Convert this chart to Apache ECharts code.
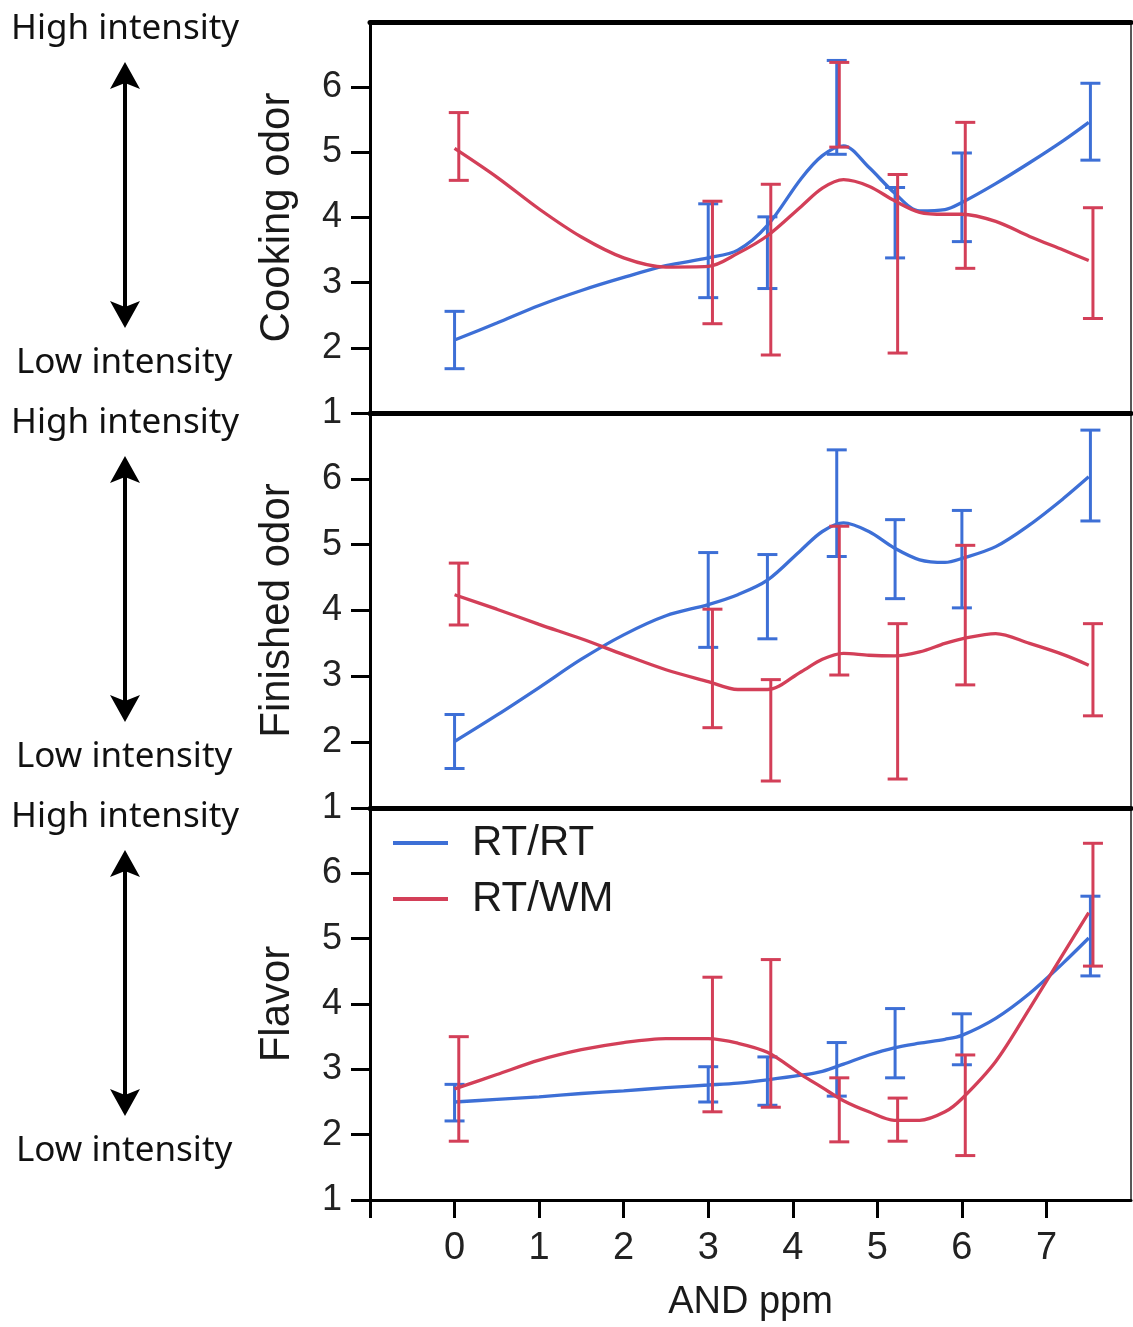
<!DOCTYPE html>
<html>
<head>
<meta charset="utf-8">
<script src="https://cdn.jsdelivr.net/npm/echarts@6/dist/echarts.min.js"></script>
<style>
html,body{margin:0;padding:0;background:#fff;}
#chart{width:1133px;height:1327px;}
</style>
</head>
<body>
<div id="chart"></div>
<script>
// ---------------- data ----------------
const panelNames = ['Cooking odor', 'Finished odor', 'Flavor'];
const seriesNames = ['RT/RT', 'RT/WM'];
const xTickValues = [-1, 0, 1, 2, 3, 4, 5, 6, 7];
const xLabelValues = [0, 1, 2, 3, 4, 5, 6, 7];
const yTickValues = [1, 2, 3, 4, 5, 6];

// AND doses (ppm) where each group was measured
const doseRT = [0, 3, 3.7, 4.52, 5.21, 6, 7.52];
const doseWM = [0.05, 3.05, 3.74, 4.55, 5.24, 6.04, 7.55];

// Cooking odor
const cookRTmean = [2.12, 3.49, 3.46, 5.69, 3.92, 4.31, 5.47];
const cookRTerr  = [0.44, 0.72, 0.55, 0.72, 0.54, 0.68, 0.59];
const cookWMmean = [5.09, 3.31, 3.20, 5.73, 3.29, 4.34, 3.30];
const cookWMerr  = [0.52, 0.94, 1.31, 0.65, 1.37, 1.12, 0.85];
// Finished odor
const finRTmean = [2.01, 4.16, 4.21, 5.63, 4.78, 4.78, 6.05];
const finRTerr  = [0.41, 0.72, 0.64, 0.81, 0.60, 0.74, 0.69];
const finWMmean = [4.25, 3.12, 2.18, 4.15, 2.62, 3.93, 3.10];
const finWMerr  = [0.47, 0.90, 0.77, 1.13, 1.18, 1.06, 0.70];
// Flavor
const flaRTmean = [2.49, 2.77, 2.82, 3.00, 3.40, 3.46, 5.04];
const flaRTerr  = [0.28, 0.27, 0.37, 0.41, 0.53, 0.39, 0.61];
const flaWMmean = [2.70, 3.38, 3.55, 2.38, 2.23, 2.45, 5.52];
const flaWMerr  = [0.80, 1.03, 1.13, 0.49, 0.33, 0.77, 0.94];

// smoothed fit curves at these doses
const fitX = [0, 0.5, 1, 1.5, 2, 2.5, 3, 3.35, 3.7, 4.1, 4.35, 4.6, 4.9, 5.2, 5.5, 5.8, 6, 6.4, 6.8, 7.2, 7.5];
const cookRTfit = [2.12, 2.38, 2.65, 2.88, 3.08, 3.26, 3.38, 3.50, 3.88, 4.60, 4.95, 5.10, 4.77, 4.38, 4.10, 4.12, 4.23, 4.52, 4.84, 5.18, 5.46];
const cookWMfit = [5.06, 4.62, 4.13, 3.70, 3.38, 3.24, 3.25, 3.45, 3.72, 4.17, 4.45, 4.58, 4.48, 4.26, 4.08, 4.05, 4.05, 3.94, 3.71, 3.50, 3.34];
const finRTfit  = [2.01, 2.41, 2.83, 3.26, 3.63, 3.92, 4.09, 4.24, 4.46, 4.92, 5.20, 5.33, 5.20, 4.95, 4.77, 4.73, 4.79, 4.97, 5.30, 5.70, 6.03];
const finWMfit  = [4.24, 4.02, 3.79, 3.57, 3.33, 3.10, 2.92, 2.80, 2.80, 3.07, 3.26, 3.35, 3.32, 3.31, 3.37, 3.50, 3.57, 3.65, 3.50, 3.33, 3.17];
const flaRTfit  = [2.50, 2.54, 2.58, 2.63, 2.67, 2.72, 2.76, 2.79, 2.84, 2.91, 2.97, 3.08, 3.22, 3.33, 3.40, 3.46, 3.52, 3.78, 4.16, 4.63, 5.01];
const flaWMfit  = [2.70, 2.92, 3.14, 3.30, 3.41, 3.47, 3.47, 3.40, 3.26, 2.92, 2.72, 2.52, 2.35, 2.22, 2.22, 2.35, 2.55, 3.12, 3.93, 4.77, 5.40];

// ---------------- chart ----------------
const BLUE = '#3d6fd6';
const RED = '#d33f58';
const panels = [
  {rtMean: cookRTmean, rtErr: cookRTerr, wmMean: cookWMmean, wmErr: cookWMerr, rtFit: cookRTfit, wmFit: cookWMfit},
  {rtMean: finRTmean, rtErr: finRTerr, wmMean: finWMmean, wmErr: finWMerr, rtFit: finRTfit, wmFit: finWMfit},
  {rtMean: flaRTmean, rtErr: flaRTerr, wmMean: flaWMmean, wmErr: flaWMerr, rtFit: flaRTfit, wmFit: flaWMfit}
];
const gridBox = [
  {top: 22, height: 391},
  {top: 413, height: 395},
  {top: 808, height: 392}
];
const LEFT = 370, RIGHT = 2;

function errSeries(name, color, dose, mean, err, idx, z) {
  return {
    type: 'custom', name: name, xAxisIndex: idx, yAxisIndex: idx, z: z,
    clip: false,
    itemStyle: {color: color},
    data: dose.map((d, i) => [d, mean[i] - err[i], mean[i] + err[i]]),
    encode: {x: 0, y: [1, 2]},
    renderItem: function (params, api) {
      const lo = api.coord([api.value(0), api.value(1)]);
      const hi = api.coord([api.value(0), api.value(2)]);
      const hw = 10;
      const st = {stroke: color, lineWidth: 3};
      return {type: 'group', children: [
        {type: 'line', shape: {x1: lo[0], y1: lo[1], x2: hi[0], y2: hi[1]}, style: st},
        {type: 'line', shape: {x1: lo[0] - hw, y1: lo[1], x2: lo[0] + hw, y2: lo[1]}, style: st},
        {type: 'line', shape: {x1: hi[0] - hw, y1: hi[1], x2: hi[0] + hw, y2: hi[1]}, style: st}
      ]};
    }
  };
}
function fitSeries(name, color, fit, idx, z) {
  return {
    type: 'line', name: name, xAxisIndex: idx, yAxisIndex: idx, z: z,
    data: fitX.map((x, i) => [x, fit[i]]),
    smooth: 0.32, showSymbol: false, symbol: 'none',
    lineStyle: {color: color, width: 3.3}, itemStyle: {color: color}
  };
}

const grids = [], xAxes = [], yAxes = [], series = [];
panels.forEach((p, k) => {
  grids.push({left: LEFT, right: RIGHT, top: gridBox[k].top, height: gridBox[k].height,
    show: true, borderColor: '#222', borderWidth: 1.5, backgroundColor: 'transparent'});
  yAxes.push({
    type: 'value', gridIndex: k, min: 1, max: 7, interval: 1,
    name: panelNames[k], nameLocation: 'middle', nameGap: 72, nameRotate: 90,
    nameTextStyle: {fontFamily: 'Liberation Sans', fontSize: 42, color: '#1a1a1a'},
    axisLine: {show: true, onZero: false, lineStyle: {color: '#000', width: 3}},
    axisTick: {show: true, inside: false, length: 19, lineStyle: {color: '#000', width: 3}, customValues: yTickValues},
    axisLabel: {show: true, fontFamily: 'Liberation Sans', fontSize: 36, color: '#222', margin: 28, customValues: yTickValues},
    splitLine: {show: false}
  });
});
function topLine(gi) {
  return {type: 'value', gridIndex: gi, min: -1, max: 8, interval: 1, position: 'top',
    axisLine: {show: true, onZero: false, lineStyle: {color: '#000', width: 5}},
    axisTick: {show: false}, axisLabel: {show: false}, splitLine: {show: false}};
}
xAxes.push(topLine(0));
xAxes.push(topLine(1));
xAxes.push({type: 'value', gridIndex: 2, min: -1, max: 8, interval: 1, position: 'bottom',
  name: 'AND ppm', nameLocation: 'middle', nameGap: 84,
  nameTextStyle: {fontFamily: 'Liberation Sans', fontSize: 38, color: '#1a1a1a'},
  axisLine: {show: true, onZero: false, lineStyle: {color: '#000', width: 3}},
  axisTick: {show: true, inside: false, length: 18, lineStyle: {color: '#000', width: 3}, customValues: xTickValues},
  axisLabel: {show: true, fontFamily: 'Liberation Sans', fontSize: 38, color: '#222', margin: 30, customValues: xLabelValues},
  splitLine: {show: false}});
xAxes.push(topLine(2));

panels.forEach((p, k) => {
  series.push(errSeries(seriesNames[0], BLUE, doseRT, p.rtMean, p.rtErr, k, 2));
  series.push(fitSeries(seriesNames[0], BLUE, p.rtFit, k, 3));
  series.push(errSeries(seriesNames[1], RED, doseWM, p.wmMean, p.wmErr, k, 4));
  series.push(fitSeries(seriesNames[1], RED, p.wmFit, k, 5));
});

// left-side intensity annotations
const graphics = [];
const annFont = '35px "Noto Sans"';
[0, 394, 788].forEach(off => {
  graphics.push({type: 'text', x: 11, y: 29 + off, style: {text: 'High intensity', font: annFont, fill: '#111', verticalAlign: 'middle'}});
  graphics.push({type: 'text', x: 16, y: 363 + off, style: {text: 'Low intensity', font: annFont, fill: '#111', verticalAlign: 'middle'}});
  graphics.push({type: 'line', shape: {x1: 125, y1: 76 + off, x2: 125, y2: 314 + off}, style: {stroke: '#000', lineWidth: 4}});
  graphics.push({type: 'polygon', shape: {points: [[125, 62 + off], [140, 89 + off], [125, 83 + off], [110, 89 + off]]}, style: {fill: '#000'}});
  graphics.push({type: 'polygon', shape: {points: [[125, 328 + off], [140, 301 + off], [125, 307 + off], [110, 301 + off]]}, style: {fill: '#000'}});
});

const chart = echarts.init(document.getElementById('chart'), null, {renderer: 'canvas'});
chart.setOption({
  animation: false,
  backgroundColor: '#fff',
  color: [BLUE, RED],
  textStyle: {fontFamily: 'Liberation Sans'},
  legend: {
    data: seriesNames, orient: 'vertical', left: 388, top: 816,
    icon: 'rect', itemWidth: 55, itemHeight: 4, itemGap: 12,
    textStyle: {fontFamily: 'Liberation Sans', fontSize: 42, color: '#1a1a1a', lineHeight: 44, padding: [0, 0, 0, 19]}
  },
  grid: grids,
  xAxis: xAxes,
  yAxis: yAxes,
  series: series,
  graphic: graphics
});
</script>
</body>
</html>
